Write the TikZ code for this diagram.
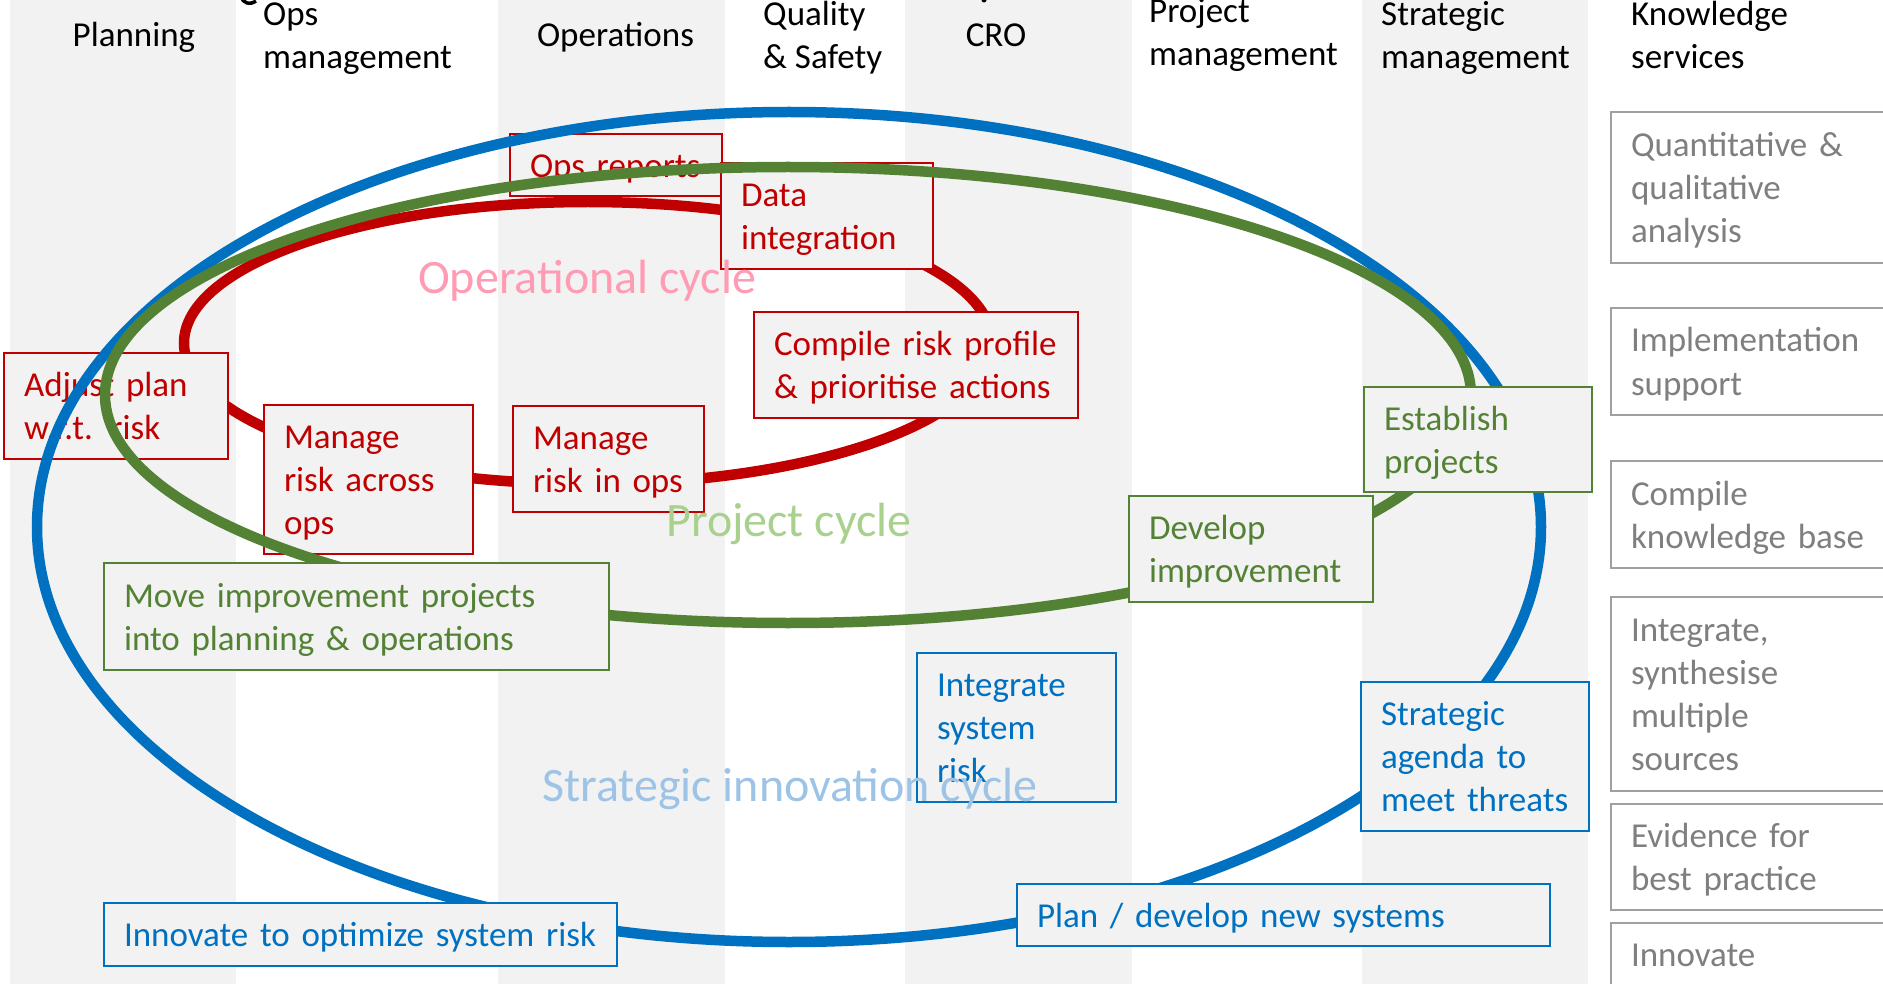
\documentclass[tikz,border=0pt]{standalone}
\usepackage{fontspec}
\setmainfont{Carlito}
\usepackage{tikz}

\definecolor{bandgray}{HTML}{F2F2F2}
\definecolor{redc}{HTML}{C00000}
\definecolor{greenc}{HTML}{548235}
\definecolor{bluec}{HTML}{0070C0}
\definecolor{knowtext}{HTML}{7F7F7F}
\definecolor{knowline}{HTML}{A0A0A0}
\definecolor{pinklab}{HTML}{FF9BB3}
\definecolor{greenlab}{HTML}{A9D18E}
\definecolor{bluelab}{HTML}{9DC3E6}

\newcommand{\cellfont}{\fontsize{35pt}{43.2pt}\selectfont}
\newcommand{\cyclefont}{\fontsize{48pt}{58pt}\selectfont}
\newcommand{\lnstrut}{\rule[-9.5pt]{0pt}{43.2pt}}

\begin{document}
\begin{tikzpicture}[x=1pt, y=-1pt,
						% Define styles for the columns, rings and boxes
						head/.style={font=\cellfont, inner sep=0pt, align=left},
						ring/.style={draw=#1, line width=10.5pt},
						cyclebox/.style={draw=#1, fill=bandgray, text=#1, line width=2pt, font=\cellfont, align=left, inner xsep=20pt, inner ysep=0pt, execute at begin node=\lnstrut, execute at end node=\lnstrut},
						knowbox/.style={draw=knowline, fill=white, text=knowtext, line width=2pt, font=\cellfont, align=left, inner xsep=20pt, inner ysep=0pt, text width=260pt, execute at begin node=\lnstrut, execute at end node=\lnstrut},
						cycle label/.style={font=\cyclefont, anchor=base west, inner sep=0pt}
						]
						
						\useasboundingbox (0,0) rectangle (1883,984);
						\clip (0,0) rectangle (1883,984);
						\fill[white] (0,0) rectangle (1883,984);
						
						% Column bands
						\fill[bandgray] (10,0) rectangle (236,984);
						\fill[bandgray] (498,0) rectangle (725,984);
						\fill[bandgray] (905,0) rectangle (1132,984);
						\fill[bandgray] (1362,0) rectangle (1588,984);
						
						% Column headings
						\node[head, anchor=base] (plan) at (134,47) {Planning};
						\node[head, anchor=base west] (opsmgmt) at (263,69) {Ops\\management};
						\node[head, anchor=base] (ops) at (615.5,47) {Operations};
						\node[head, anchor=base west] (qualsafe) at (763,69) {Quality\\\& Safety};
						\node[head, anchor=base] (cro) at (996,47) {CRO};
						\node[head, anchor=base west] (projmgmt) at (1149,66) {Project\\management};
						\node[head, anchor=base west] (stratmgmt) at (1381,69) {Strategic\\management};
						\node[head, anchor=base west] (knowsvc) at (1631,69) {Knowledge\\services};
						
						% bits of the cut-off title
						\draw[line width=3.5pt] (241,-4) .. controls (243,4) and (250,5) .. (256,1);
						\fill (984,0) circle (2.5pt);
						
						% --- Operational cycle ---
						\draw[ring=redc] (588,343) ellipse [x radius=404pt, y radius=141pt];
						\node[cyclebox=redc, text width=172pt, minimum height=62pt] (opsrep) at (616,165) {Ops reports};
						\node[cyclebox=redc, text width=172pt, minimum height=106pt] (dataint) at (827,216) {Data\\integration};
						\node[cyclebox=redc, text width=284pt, minimum height=106pt] (riskprof) at (916,365) {Compile~risk~profile\\\&~prioritise~actions};
						\node[cyclebox=redc, text width=184pt, minimum height=106pt] (adjplan) at (116,406) {Adjust plan\\w.r.t. risk};
						\node[cyclebox=redc, text width=169pt, minimum height=149pt] (mgacross) at (368.5,479.5) {Manage\\risk across\\ops};
						\node[cyclebox=redc, text width=151pt, minimum height=106pt] (mgops) at (608.5,459) {Manage\\risk in ops};
						
						% --- Strategic and project cycles ---
						\draw[ring=bluec] (789,527) ellipse [x radius=752pt, y radius=415pt];
						\draw[ring=greenc] (788,395) ellipse [x radius=683pt, y radius=228pt];
						
						\node[cyclebox=greenc, text width=465pt, minimum height=107pt] (moveimp) at (356.5,616.5) {Move improvement projects\\into planning \& operations};
						\node[cyclebox=greenc, text width=204pt, minimum height=106pt] (devimp) at (1251,549) {Develop\\improvement};
						\node[cyclebox=greenc, text width=188pt, minimum height=105pt] (estproj) at (1478,439.5) {Establish\\projects};
						
						\node[cyclebox=bluec, text width=159pt, minimum height=149pt] (intsys) at (1016.5,727.5) {Integrate\\system\\risk};
						\node[cyclebox=bluec, text width=188pt, minimum height=149pt] (stratag) at (1475,756.5) {Strategic\\agenda to\\meet~threats};
						\node[cyclebox=bluec, text width=493pt, minimum height=62pt] (plandev) at (1283.5,915) {Plan / develop new systems};
						\node[cyclebox=bluec, text width=473pt, minimum height=63pt] (innov) at (360.5,934.5) {Innovate~to~optimize~system~risk};
						
						% Knowledge services column
						\node[knowbox, minimum height=151pt] (quant) at (1761,187.5) {Quantitative \&\\qualitative\\analysis};
						\node[knowbox, minimum height=107pt] (impl) at (1761,361.5) {Implementation\\support};
						\node[knowbox, minimum height=107pt] (compkb) at (1761,514.5) {Compile\\knowledge base};
						\node[knowbox, minimum height=194pt] (integ) at (1761,694) {Integrate,\\synthesise\\multiple\\sources};
						\node[knowbox, minimum height=106pt] (evid) at (1761,857) {Evidence for\\best practice};
						\node[knowbox, minimum height=63pt] (innovk) at (1761,954.5) {Innovate};
						
						% Cycle names
						\node[cycle label, text=pinklab] (opcyc) at (418,294) {Operational cycle};
						\node[cycle label, text=greenlab] (projcyc) at (666,536) {Project cycle};
						\node[cycle label, text=bluelab] (stratcyc) at (542,801) {Strategic innovation cycle};
					\end{tikzpicture}
\end{document}
